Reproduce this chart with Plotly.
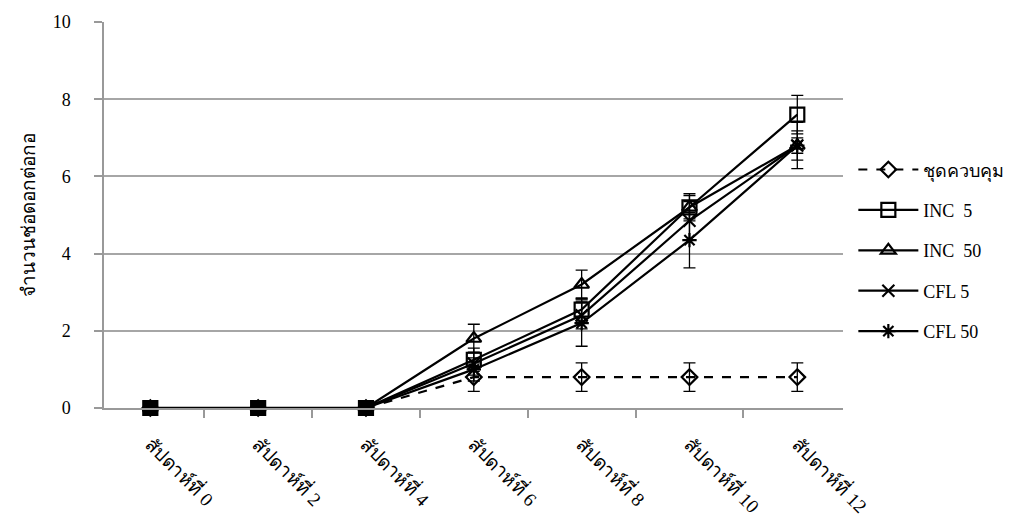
import plotly.graph_objects as go

# Weekly inflorescence counts per clump under each lighting treatment
weeks = ["สัปดาห์ที่ 0", "สัปดาห์ที่ 2", "สัปดาห์ที่ 4", "สัปดาห์ที่ 6",
         "สัปดาห์ที่ 8", "สัปดาห์ที่ 10", "สัปดาห์ที่ 12"]

control = [0, 0, 0, 0.8, 0.8, 0.8, 0.8]
control_err = [0, 0, 0, 0.37, 0.37, 0.37, 0.37]

inc5 = [0, 0, 0, 1.25, 2.55, 5.2, 7.6]
inc5_err = [0, 0, 0, 0.3, 0.3, 0.35, 0.5]

inc50 = [0, 0, 0, 1.8, 3.2, 5.2, 6.8]
inc50_err = [0, 0, 0, 0.37, 0.37, 0.3, 0.38]

cfl5 = [0, 0, 0, 1.15, 2.4, 4.85, 6.8]
cfl5_err = [0, 0, 0, 0.3, 0.35, 0.5, 0.2]

cfl50 = [0, 0, 0, 1.0, 2.2, 4.35, 6.8]
cfl50_err = [0, 0, 0, 0.3, 0.6, 0.72, 0.6]

series = [
    ("ชุดควบคุม", control, control_err, "diamond-open", 12, "dash"),
    ("INC  5", inc5, inc5_err, "square-open", 14, "solid"),
    ("INC  50", inc50, inc50_err, "triangle-up-open", 13, "solid"),
    ("CFL 5", cfl5, cfl5_err, "x-thin-open", 12, "solid"),
    ("CFL 50", cfl50, cfl50_err, "asterisk-open", 12, "solid"),
]

FONT = "Liberation Serif, Times New Roman, serif"

fig = go.Figure()
for i, (name, vals, err, sym, size, dash) in enumerate(series):
    fig.add_trace(go.Scatter(
        x=weeks, y=vals, name=name, mode="lines+markers",
        legendgroup=f"g{i}", cliponaxis=False,
        line=dict(color="black", width=2.2, dash=dash),
        marker=dict(symbol=sym, size=size, color="black",
                    line=dict(color="black", width=2.2)),
        error_y=dict(type="data", array=err, visible=True,
                     color="black", thickness=1.3, width=6),
    ))

# weeks before flowering: all series sit at zero and overlap as solid squares
zero_weeks = [w for w, v in zip(weeks, inc5) if v == 0]
zero_vals = [v for v in inc5 if v == 0]
fig.add_trace(go.Scatter(
    x=zero_weeks, y=zero_vals, mode="lines+markers", showlegend=False,
    cliponaxis=False, hoverinfo="skip",
    line=dict(color="black", width=2.5),
    marker=dict(symbol="square", size=15, color="black"),
))

fig.update_layout(
    width=1034, height=525,
    margin=dict(l=104, r=191, t=22, b=117),
    paper_bgcolor="white", plot_bgcolor="white",
    font=dict(family=FONT, size=18, color="black"),
    showlegend=True,
    legend=dict(x=1.014, y=0.665, xanchor="left", yanchor="top",
                font=dict(family=FONT, size=18),
                tracegroupgap=14, itemwidth=60,
                bgcolor="rgba(0,0,0,0)"),
    xaxis=dict(
        type="category", tickson="boundaries", tickangle=45,
        ticks="outside", ticklen=8, tickcolor="#999999", tickwidth=1.5,
        showline=True, linecolor="#999999", linewidth=1.5,
        showgrid=False, zeroline=False, automargin=False,
        tickfont=dict(family=FONT, size=19),
        ticklabelstandoff=16,
    ),
    yaxis=dict(
        range=[0, 10], dtick=2, ticks="outside", ticklen=8,
        tickcolor="#999999", tickwidth=1.5,
        showline=True, linecolor="#999999", linewidth=1.5,
        showgrid=True, gridcolor="#a6a6a6", gridwidth=1.5,
        zeroline=False, automargin=False,
        tickfont=dict(family=FONT, size=18),
        ticklabelstandoff=20,
        title=dict(text="จำนวนช่อดอกต่อกอ", standoff=12,
                   font=dict(family=FONT, size=19)),
    ),
)

fig.write_html("out.html")
